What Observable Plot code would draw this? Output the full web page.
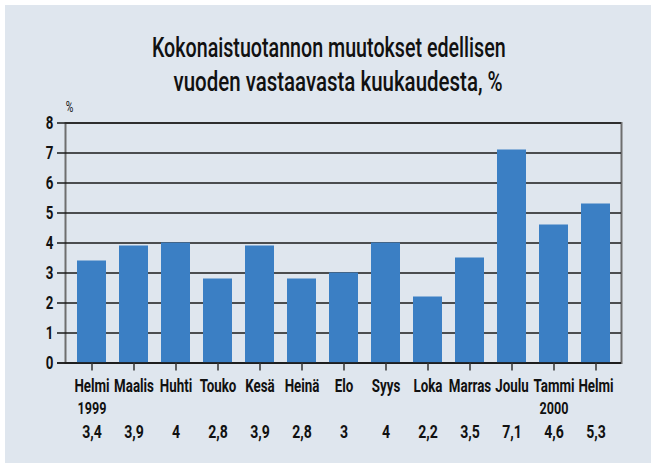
<!DOCTYPE html>
<html>
<head>
<meta charset="utf-8">
<script src="https://cdn.jsdelivr.net/npm/d3@7"></script>
<script src="https://cdn.jsdelivr.net/npm/@observablehq/plot@0.6"></script>
<style>
  html, body { margin: 0; padding: 0; background: #ffffff; }
  #card { position: absolute; left: 5px; top: 5px; width: 646px; height: 458px; background: #dfe6ee; overflow: hidden; }
  #title { position: relative; height: 90px; font-family: Roboto, "DejaVu Sans Condensed", sans-serif; font-size: 28px; font-weight: 500; color: #111; }
  #title span { position: absolute; white-space: pre; line-height: 28px; transform-origin: 50% 50%; }
  #chart { position: absolute; left: 0; top: 90px; }
  #chart svg { display: block; background: transparent; }
</style>
</head>
<body>
<div id="card">
  <div id="title">
    <span id="t1">Kokonaistuotannon muutokset edellisen</span>
    <span id="t2">vuoden vastaavasta kuukaudesta, %</span>
  </div>
  <div id="chart"></div>
</div>
<script>
const months = ["Helmi","Maalis","Huhti","Touko","Kesä","Heinä","Elo","Syys","Loka","Marras","Joulu","Tammi","Helmi"];
const years = ["1999","","","","","","","","","","","2000",""];
const values = [3.4, 3.9, 4, 2.8, 3.9, 2.8, 3, 4, 2.2, 3.5, 7.1, 4.6, 5.3];
const yTicks = [0, 1, 2, 3, 4, 5, 6, 7, 8];
const unitLabel = "%";

const idx = months.map((_, i) => i);
const data = idx.map(i => ({i, month: months[i], year: years[i], value: values[i], label: String(values[i]).replace(".", ",")}));

const font = 'Roboto, "DejaVu Sans Condensed", sans-serif';

const chart = Plot.plot({
  width: 646,
  height: 368,
  marginLeft: 60,
  marginRight: 30,
  marginTop: 27.5,
  marginBottom: 100.5,
  style: {background: "transparent", fontFamily: font, color: "#111"},
  x: {type: "band", domain: idx, paddingInner: 0.32, paddingOuter: 0.16, axis: null},
  y: {domain: [0, 8], axis: null},
  marks: [
    Plot.frame({stroke: "#6e6e6e", strokeWidth: 2}),
    Plot.ruleY(yTicks, {y: d => d, stroke: "#1a1a1a", strokeWidth: 1.5, insetLeft: -8}),
    Plot.barY(data, {x: "i", y: "value", fill: "#3b7fc4"}),
    Plot.ruleY([0], {stroke: "#1a1a1a", strokeWidth: 1.5, insetLeft: -8}),
    Plot.text(yTicks, {y: d => d, text: d => String(d), frameAnchor: "left", dx: -12, textAnchor: "end", lineAnchor: "middle", fontSize: 18, fontWeight: "bold", fill: "#111"}),
    Plot.axisX(idx, {tickSize: 8, stroke: "#333", strokeWidth: 1.5, tickFormat: () => "", label: null}),
    Plot.text(data, {x: "i", text: "month", frameAnchor: "bottom", lineAnchor: "bottom", dy: 29, fontSize: 18, fontWeight: "bold", fill: "#111"}),
    Plot.text(data, {x: "i", text: "year", frameAnchor: "bottom", lineAnchor: "bottom", dy: 50.5, fontSize: 17, fontWeight: "bold", fill: "#111"}),
    Plot.text(data, {x: "i", text: "label", frameAnchor: "bottom", lineAnchor: "bottom", dy: 74.5, fontSize: 19, fontWeight: "bold", fill: "#111"}),
    Plot.text([unitLabel], {text: d => d, frameAnchor: "top-left", dx: 4, dy: -15, lineAnchor: "middle", textAnchor: "middle", fontSize: 14, fill: "#111"})
  ]
});
document.getElementById("chart").appendChild(chart);

// condense glyphs horizontally (the reference uses a condensed face)
function condense() {
  for (const t of chart.querySelectorAll("text")) {
    if (!t.textContent) continue;
    t.removeAttribute("textLength");
    const L = t.getComputedTextLength();
    if (L > 0) {
      t.setAttribute("textLength", (L * 0.74).toFixed(2));
      t.setAttribute("lengthAdjust", "spacingAndGlyphs");
    }
  }
}

function layoutTitle() {
  const specs = [["t1", 324, 53, 354], ["t2", 332.5, 87, 329]];
  for (const [id, cx, baseline, target] of specs) {
    const el = document.getElementById(id);
    el.style.transform = "none";
    const w = el.offsetWidth;
    const s = target / w;
    el.style.left = (cx - w / 2) + "px";
    el.style.top = (baseline - 23.7) + "px";
    el.style.transform = `scaleX(${s})`;
  }
}
condense();
layoutTitle();
if (document.fonts && document.fonts.ready) document.fonts.ready.then(() => { condense(); layoutTitle(); });
</script>
</body>
</html>
